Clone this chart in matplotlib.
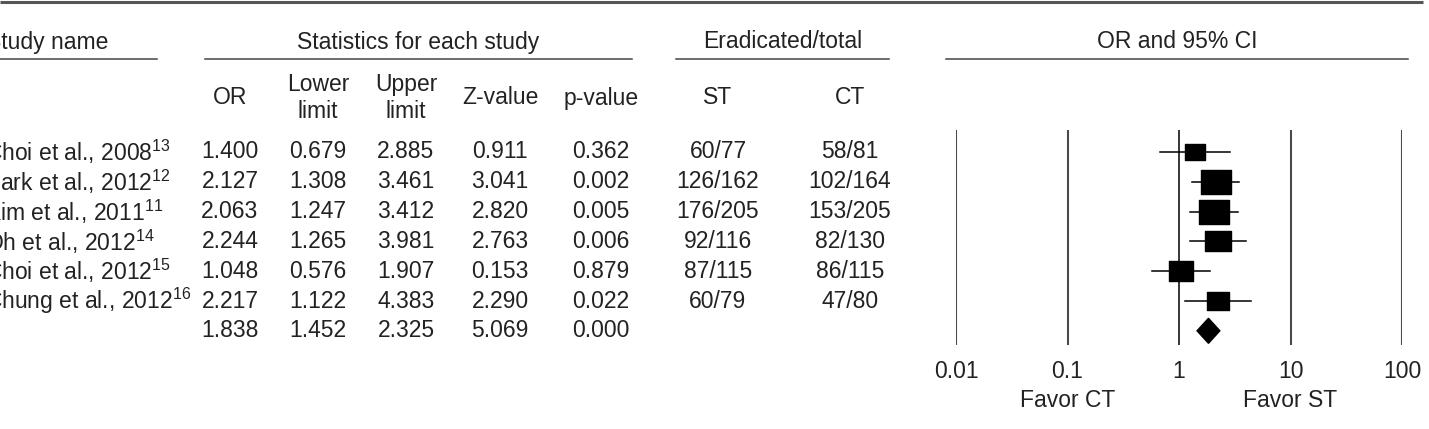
import numpy as np
import matplotlib.pyplot as plt
from matplotlib.path import Path

FONT = 'Liberation Sans'
plt.rcParams['font.family'] = [FONT, 'DejaVu Sans']
plt.rcParams['mathtext.fontset'] = 'custom'
plt.rcParams['mathtext.rm'] = FONT
plt.rcParams['mathtext.it'] = FONT

# data
studies = ["Choi et al., 2008", "Park et al., 2012", "Kim et al., 2011",
           "Oh et al., 2012", "Choi et al., 2012", "Chung et al., 2012"]
refs = ["13", "12", "11", "14", "15", "16"]
odds = [1.400, 2.127, 2.063, 2.244, 1.048, 2.217]
lower = [0.679, 1.308, 1.247, 1.265, 0.576, 1.122]
upper = [2.885, 3.461, 3.412, 3.981, 1.907, 4.383]
zval = [0.911, 3.041, 2.820, 2.763, 0.153, 2.290]
pval = [0.362, 0.002, 0.005, 0.006, 0.879, 0.022]
st_events = [60, 126, 176, 92, 87, 60]
st_total = [77, 162, 205, 116, 115, 79]
ct_events = [58, 102, 153, 82, 86, 47]
ct_total = [81, 164, 205, 130, 115, 80]
pooled_or, pooled_lo, pooled_hi, pooled_z, pooled_p = 1.838, 1.452, 2.325, 5.069, 0.000
ticks = [0.01, 0.1, 1, 10, 100]
tick_labels = ["0.01", "0.1", "1", "10", "100"]

W, H = 1429, 429
fig = plt.figure(figsize=(W / 100, H / 100), dpi=100)
tab = fig.add_axes([0, 0, 1, 1])
tab.set_xlim(0, W)
tab.set_ylim(H, 0)
tab.axis('off')

fs = 16.5
tc = '#222222'
row0, dy = 152, 29.8

# top border
tab.plot([0, 1423], [1.5, 1.5], color='#555555', lw=2.2, solid_capstyle='butt')

# group headers
tab.text(-14, 42, "Study name", fontsize=fs, color=tc, ha='left', va='center')
tab.text(418, 42, "Statistics for each study", fontsize=fs, color=tc, ha='center', va='center')
tab.text(783, 42, "Eradicated/total", fontsize=fs, color=tc, ha='center', va='center')
tab.text(1177, 42, "OR and 95% CI", fontsize=fs, color=tc, ha='center', va='center')
for x0, x1 in [(0, 157), (205, 632), (676, 889), (946, 1408)]:
    tab.plot([x0, x1], [59, 59], color='#444444', lw=1.1)

# column headers
cols = [230, 318, 406, 500, 601, 718, 850]
heads = ["OR", "Lower\nlimit", "Upper\nlimit", "Z-value", "p-value", "ST", "CT"]
for x, h in zip(cols, heads):
    tab.text(x, 98, h, fontsize=fs, color=tc, ha='center', va='center',
             linespacing=1.2)

# rows
for i in range(len(studies)):
    y = row0 + dy * i
    tab.text(-15, y, studies[i] + r"$^{" + refs[i] + "}$", fontsize=fs, color=tc,
             ha='left', va='center')
    vals = ["%.3f" % odds[i], "%.3f" % lower[i], "%.3f" % upper[i],
            "%.3f" % zval[i], "%.3f" % pval[i],
            "%d/%d" % (st_events[i], st_total[i]),
            "%d/%d" % (ct_events[i], ct_total[i])]
    for x, v in zip(cols, vals):
        tab.text(x, y, v, fontsize=fs, color=tc, ha='center', va='center')
ysum = row0 + dy * len(studies)
for x, v in zip(cols, [pooled_or, pooled_lo, pooled_hi, pooled_z, pooled_p]):
    tab.text(x, ysum, "%.3f" % v, fontsize=fs, color=tc, ha='center', va='center')

# forest plot panel
top_px, bot_px = 130, 345
left_px, right_px = 956, 1402
ax = fig.add_axes([left_px / W, (H - bot_px) / H, (right_px - left_px) / W,
                   (bot_px - top_px) / H])
ax.set_xscale('log')
ax.set_xlim(0.01, 100)
ax.set_ylim((bot_px - row0) / dy, (top_px - row0) / dy)
for s in ax.spines.values():
    s.set_visible(False)
ax.set_yticks([])
ax.minorticks_off()
ax.set_xticks(ticks)
ax.set_xticklabels(tick_labels)
ax.tick_params(axis='x', length=0, pad=11, labelsize=fs, labelcolor=tc)
ax.patch.set_alpha(0)

for t in ticks:
    ax.axvline(t, color='black' if t == 1 else '#4a4a4a',
               lw=1.1 if t == 1 else 1.5, zorder=1)

# box sizes from inverse-variance weights
se = (np.log(upper) - np.log(lower)) / (2 * 1.96)
w = 1 / se ** 2
box_px = 7.6 * np.sqrt(w)
box = Path([(-1, -0.8), (1, -0.8), (1, 0.8), (-1, 0.8), (-1, -0.8)],
           [Path.MOVETO, Path.LINETO, Path.LINETO, Path.LINETO, Path.CLOSEPOLY])
for i in range(len(studies)):
    ax.plot([lower[i], upper[i]], [i, i], color='black', lw=1.1, zorder=2)
    ax.plot(odds[i], i, marker=box, color='black', markersize=box_px[i] * 0.72,
            linestyle='none', zorder=3)

n = len(studies)
ax.fill([pooled_lo, pooled_or, pooled_hi, pooled_or],
        [n, n - 0.42, n, n + 0.42], color='black', zorder=3)

ax.text(0.1, -0.26, "Favor CT", transform=ax.get_xaxis_transform(),
        fontsize=fs, color=tc, ha='center', va='center')
ax.text(10, -0.26, "Favor ST", transform=ax.get_xaxis_transform(),
        fontsize=fs, color=tc, ha='center', va='center')

fig.savefig('out.png', dpi=100)
